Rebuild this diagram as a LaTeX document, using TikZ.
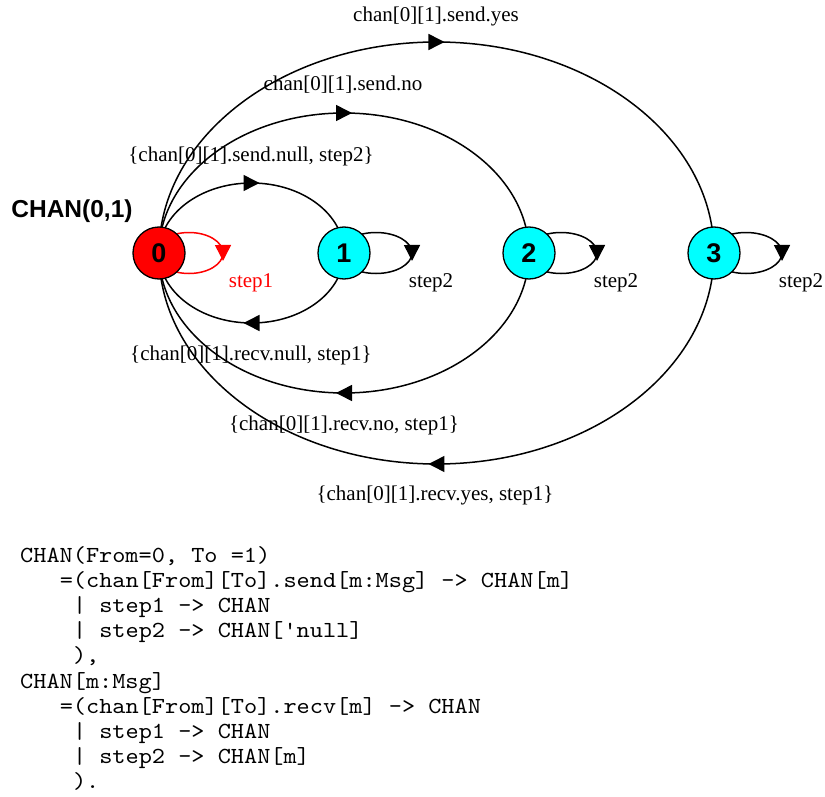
\documentclass[tikz,border=0pt]{standalone}
\usepackage{fontspec}
\setmainfont{Liberation Serif}
\setsansfont{Liberation Sans}
\newfontfamily\codefont{lmmono10-regular.otf}[FakeStretch=1.09]
\usetikzlibrary{arrows.meta,decorations.markings,backgrounds}
\definecolor{pcyan}{RGB}{0,255,255}
\definecolor{pred}{RGB}{255,0,0}
\begin{document}
\begin{tikzpicture}[x=1pt,y=1pt,
  state/.style={circle,draw,line width=1.3pt,minimum size=52pt,inner sep=0pt,font=\fontsize{27}{27}\sffamily\bfseries},
  lbl/.style={inner sep=0pt,font=\fontsize{21}{24}\selectfont},
  code/.style={anchor=base west,inner sep=0pt,font=\fontsize{23}{25}\codefont},
  midtip/.style={decoration={markings,mark=at position 0.5 with {\arrow[xshift=8pt]{Triangle[length=16pt,width=16pt]}}},postaction={decorate}},
  trans/.style={line width=1.5pt,midtip},
  redtrans/.style={trans,pred}
]
\useasboundingbox (0,0) rectangle (825,-797);

% states
\node[state,fill=pred]  (n0) at (159,-253) {0};
\node[state,fill=pcyan] (n1) at (344,-253) {1};
\node[state,fill=pcyan] (n2) at (529,-253) {2};
\node[state,fill=pcyan] (n3) at (714,-253) {3};

\node[inner sep=0pt,font=\fontsize{24.5}{25}\sffamily\bfseries] (title) at (72,-211) {CHAN(0,1)};

\begin{pgfonlayer}{background}
% send arcs (top) and recv arcs (bottom)
\draw[trans] (n0.center) arc[start angle=180,end angle=0,x radius=92.5,y radius=70];
\draw[trans] (n1.center) arc[start angle=0,end angle=-180,x radius=92.5,y radius=70];
\draw[trans] (n0.center) arc[start angle=180,end angle=0,x radius=185,y radius=140];
\draw[trans] (n2.center) arc[start angle=0,end angle=-180,x radius=185,y radius=140];
\draw[trans] (n0.center) arc[start angle=180,end angle=0,x radius=277.5,y radius=211];
\draw[trans] (n3.center) arc[start angle=0,end angle=-180,x radius=277.5,y radius=211];
% self loops
\draw[redtrans] ([xshift=-4pt]n0.center) arc[start angle=180,end angle=-180,x radius=34,y radius=20.5];
\draw[trans] ([xshift=-4pt]n1.center) arc[start angle=180,end angle=-180,x radius=36,y radius=20.5];
\draw[trans] ([xshift=-4pt]n2.center) arc[start angle=180,end angle=-180,x radius=36,y radius=20.5];
\draw[trans] ([xshift=-4pt]n3.center) arc[start angle=180,end angle=-180,x radius=36,y radius=20.5];
\end{pgfonlayer}

% labels
\node[lbl] (l1) at (436,-16) {chan[0][1].send.yes};
\node[lbl] (l2) at (343,-85) {chan[0][1].send.no};
\node[lbl] (l3) at (251,-156) {\{chan[0][1].send.null, step2\}};
\node[lbl] (l4) at (251,-355) {\{chan[0][1].recv.null, step1\}};
\node[lbl] (l5) at (344,-425) {\{chan[0][1].recv.no, step1\}};
\node[lbl] (l6) at (435,-495) {\{chan[0][1].recv.yes, step1\}};
\node[lbl,text=pred] (s0) at (251,-283) {step1};
\node[lbl] (s1) at (431,-283) {step2};
\node[lbl] (s2) at (616,-283) {step2};
\node[lbl] (s3) at (801,-283) {step2};

% code
\node[code] (c1)  at (20,-562)   {CHAN(From=0, To =1)};
\node[code] (c2)  at (59.6,-587) {=(chan[From][To].send[m:Msg] -> CHAN[m]};
\node[code] (c3)  at (72.8,-612) {| step1 -> CHAN};
\node[code] (c4)  at (72.8,-637) {| step2 -> CHAN['null]};
\node[code] (c5)  at (72.8,-662) {),};
\node[code] (c6)  at (20,-688)   {CHAN[m:Msg]};
\node[code] (c7)  at (59.6,-713) {=(chan[From][To].recv[m] -> CHAN};
\node[code] (c8)  at (72.8,-738) {| step1 -> CHAN};
\node[code] (c9)  at (72.8,-763) {| step2 -> CHAN[m]};
\node[code] (c10) at (72.8,-788) {).};
\end{tikzpicture}
\end{document}
